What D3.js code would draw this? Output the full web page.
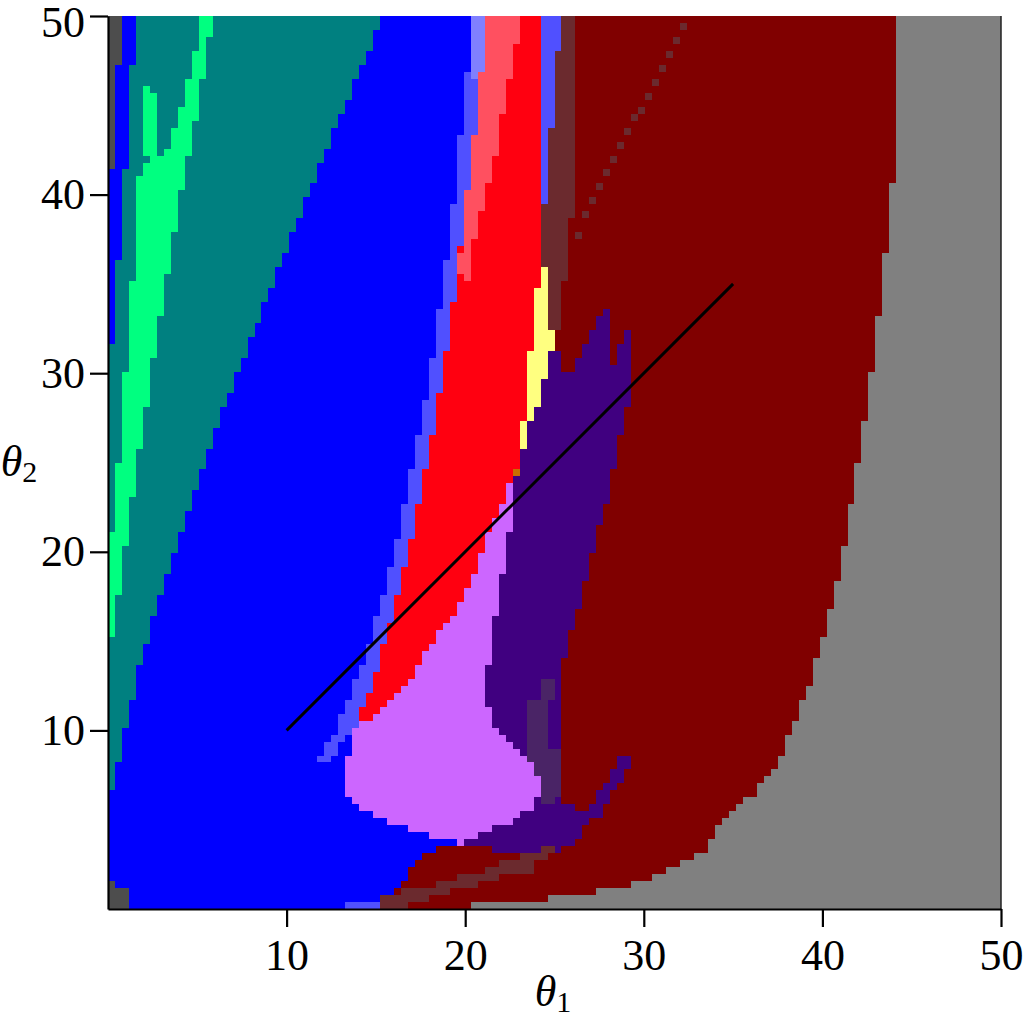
<!DOCTYPE html>
<html><head><meta charset="utf-8">
<script src="https://cdn.jsdelivr.net/npm/d3@7"></script>
<style>body{margin:0;background:#fff}svg{display:block}</style>
</head><body>
<svg id="chart" width="1024" height="1020"></svg>
<script>
// ---------- data (theta1, theta2 in degrees) ----------
const xTicks = [10, 20, 30, 40, 50];
const yTicks = [10, 20, 30, 40, 50];
const gridCells = 128;
const diagonalLine = [[10, 10], [35, 35]];

const plotArea = [[0,0],[50,0],[50,50],[0,50]];
// staircase edge of dark-red region: [theta1, theta2 from, theta2 to]
const darkRedEdge = [[44.12,50,40.6],[43.73,40.6,36.67],[43.34,36.67,33.09],[42.95,33.09,29.96],[42.5,29.96,27.21],[42.11,27.21,24.97],[41.77,24.97,22.62],[41.38,22.62,20.21],[40.99,20.21,18.25],[40.59,18.25,16.74],[40.2,16.74,15.12],[39.81,15.12,14.0],[39.42,14.0,12.37],[39.03,12.37,11.65],[38.63,11.65,10.41],[38.24,10.41,9.63],[37.85,9.63,8.45],[37.46,8.45,7.67],[37.07,7.67,7.28],[36.67,7.28,6.89],[36.34,6.89,6.44],[35.95,6.44,6.1],[35.55,6.1,5.71],[35.11,5.71,5.32],[34.77,5.32,4.93],[34.38,4.93,4.54],[33.99,4.54,3.75],[33.59,3.75,3.02],[32.81,3.02,2.58],[32.03,2.58,2.18],[31.24,2.18,1.79],[30.46,1.79,1.4],[29.34,1.4,1.01],[27.38,1.01,0.67],[24.64,0.67,0.28],[20.32,0.28,0]];
const mutedTopBand = [[24.24,50],[26.15,50],[26.15,38.58],[25.76,38.58],[25.76,35.05],[25.42,35.05],[25.42,32.31],[24.24,32.31]];
const lightBlueTopRight = [[24.24,50],[25.42,50],[25.42,47.98],[25.03,47.98],[25.03,43.73],[24.58,43.73],[24.58,39.42],[24.24,39.42]];
// single muted cells forming a dotted diagonal inside the dark-red region
const dottedCells = [[32.21,49.59],[31.8,48.81],[31.41,48.0],[31.03,47.2],[30.66,46.42],[30.25,45.67],[29.88,44.89],[29.47,44.28],[29.1,43.49],[28.67,42.72],[28.29,41.98],[27.88,41.13],[27.51,40.35],[27.12,39.6],[26.75,38.8],[26.37,37.83]];
const purpleRegion = [[24.58,31.19],[25.42,31.19],[25.42,30.01],[25.98,30.18],[26.43,30.91],[26.76,31.58],[27.1,32.25],[27.38,32.98],[27.72,33.54],[28.11,33.54],[28.11,30.35],[28.5,30.35],[28.5,31.58],[28.95,31.58],[28.95,32.31],[29.34,32.31],[29.34,28.89],[29.11,28.05],[28.72,26.48],[28.28,24.52],[27.88,22.56],[27.49,21.22],[27.1,19.82],[26.76,18.25],[26.37,16.91],[25.98,15.57],[25.59,14.0],[25.2,12.82],[25.2,6.1],[25.76,5.77],[26.99,5.38],[26.99,4.98],[26.6,4.59],[26.26,3.81],[25.76,3.42],[24.19,3.14],[21.5,3.14],[21.5,3.52],[19.71,3.55],[20.83,6.66],[20.27,11.7],[20.83,17.3],[21.95,22.9],[22.79,26.26],[23.63,29.62],[24.19,31.19]];
const mutedPurpleRegion = [[24.19,12.93],[25.08,12.93],[25.08,11.7],[24.58,11.42],[24.58,9.01],[25.42,8.9],[25.42,6.3],[25.03,6.0],[25.03,5.77],[24.19,5.77],[23.85,7.33],[23.46,8.79],[23.46,11.59],[24.19,11.7]];
const purpleStreak = [[26.6,4.98],[27.5,4.98],[29.4,8.4],[28.7,8.4]];
const mutedBottomBand = [[15.34,0],[15.34,0.59],[16.46,0.98],[18.42,1.37],[19.54,1.76],[21.11,2.15],[21.95,2.54],[23.07,2.93],[24.19,3.32],[24.19,3.5],[25.03,3.5],[25.03,3.32],[24.58,2.93],[23.8,2.54],[23.8,2.15],[21.95,1.76],[20.66,1.37],[19.15,0.98],[18.03,0.59],[16.8,0.195],[16.8,0]];
const blueRegion = [[0,0],[0,50],[21.11,50],[21.11,48.66],[20.72,45.3],[20.32,41.71],[19.93,38.58],[19.54,35.72],[19.2,32.98],[18.81,30.4],[18.42,28.05],[18.03,25.93],[17.64,24.02],[17.25,22.0],[16.85,20.27],[16.46,18.7],[16.07,17.08],[15.68,15.57],[15.29,14.17],[14.89,12.99],[14.5,11.87],[14.11,10.86],[15.23,8.34],[17.47,6.1],[19.54,3.71],[18.42,3.32],[17.58,2.93],[17.19,2.54],[16.8,2.15],[16.8,1.76],[16.46,1.37],[16.07,0.98],[15.29,0.59],[15.29,0]];
const lightBlueBottom = [[13.38,0],[13.38,0.34],[15.29,0.34],[15.29,0]];
const tealRegion = [[1.62,50],[1.62,47.26],[1.23,47.26],[1.23,41.27],[0.84,41.27],[0.84,36.34],[0.5,36.34],[0.5,31.58],[0,31.58],[0,6.55],[0.5,6.55],[0.5,7.73],[1.62,12.99],[2.8,17.3],[4.37,22.0],[5.93,26.65],[8.29,32.7],[10.58,38.47],[12.93,44.12],[15.29,49.78],[15.4,50]];
const greenRegion = [[5.15,50],[5.88,50],[5.88,49.55],[5.54,48.21],[5.15,45.86],[4.76,43.56],[4.37,41.6],[3.98,39.42],[3.58,37.01],[3.14,34.66],[2.8,32.36],[2.41,29.84],[2.02,27.32],[1.62,24.69],[1.23,22.17],[0.84,19.43],[0.45,16.52],[0.45,15.17],[0,15.17],[0,21.0],[0.5,21.0],[0.5,24.97],[0.84,24.97],[0.84,30.0],[1.23,30.0],[1.23,35.05],[1.62,35.05],[1.62,40.9],[2.4,42.0],[3.2,42.4],[3.58,43.17],[3.98,44.51],[4.37,46.08],[4.76,47.59],[5.15,49.21]];
const greenBranch = [[2.0,46.0],[2.8,45.6],[2.8,42.3],[2.0,42.3]];
const darkGrayTop = [[0,50],[0.7,50],[0.7,47.26],[0.3,47.26],[0.3,41.27],[0,41.27]];
const darkGrayBottom = [[0,0],[0,1.7],[0.3,1.7],[0.3,1.0],[1.1,1.0],[1.1,0]];
const lightBlueBand = [[19.93,46.81],[21.6,46.81],[21.2,45.3],[20.8,41.7],[20.4,38.6],[20.0,35.7],[19.7,33.0],[19.3,30.4],[18.9,28.0],[18.5,25.9],[18.1,24.0],[17.7,22.0],[17.3,20.3],[17.0,18.7],[16.6,17.1],[16.2,15.6],[15.8,14.2],[15.4,13.0],[15.0,11.9],[14.6,10.9],[14.11,10.41],[13.72,10.02],[13.33,9.46],[12.71,8.79],[12.32,8.06],[11.76,8.06],[11.76,8.29],[12.15,8.9],[12.54,9.63],[12.93,10.41],[13.33,11.31],[13.72,12.37],[14.11,13.38],[14.5,14.39],[14.89,15.73],[15.29,17.08],[15.68,18.42],[16.07,19.99],[16.46,21.78],[16.8,23.52],[17.19,25.48],[17.64,27.66],[18.03,30.01],[18.42,32.53],[18.81,35.33],[19.2,38.24],[19.54,41.55],[19.93,45.02]];
const paleBlueTop = [[20.3,50],[21.1,50],[21.1,46.4],[20.3,46.4]];
const redRegion = [[21.11,50],[24.24,50],[24.24,34.66],[23.85,34.66],[23.85,31.19],[23.46,31.19],[23.46,27.21],[23.07,27.21],[23.07,25.14],[22.68,24.3],[22.51,23.91],[22.28,23.18],[21.89,22.23],[21.5,21.44],[21.11,20.66],[20.72,19.43],[20.32,18.25],[19.93,17.53],[19.54,16.74],[18.87,16.07],[18.42,15.51],[18.03,14.78],[17.64,14.0],[17.19,13.21],[16.8,12.6],[16.46,12.21],[16.07,11.81],[15.68,11.42],[15.06,11.03],[14.5,10.58],[14.5,10.41],[14.11,10.41],[14.11,10.86],[14.5,11.87],[14.89,12.99],[15.29,14.17],[15.68,15.57],[16.07,17.08],[16.46,18.7],[16.85,20.27],[17.25,22.0],[17.64,24.02],[18.03,25.93],[18.42,28.05],[18.81,30.4],[19.2,32.98],[19.54,35.72],[19.93,38.58],[20.32,41.71],[20.72,45.3],[21.11,48.66]];
const lightRedRegion = [[21.11,50],[23.07,50],[23.07,49.38],[22.68,47.59],[22.28,45.46],[21.89,43.56],[21.56,41.6],[21.11,39.81],[20.72,38.47],[20.38,36.9],[20.16,35.22],[19.6,35.5],[19.93,38.58],[20.32,41.71],[20.72,45.3],[21.11,48.66]];
const yellowRegion = [[23.07,25.76],[23.07,27.21],[23.46,27.21],[23.46,31.19],[23.85,31.19],[23.85,34.66],[24.24,34.66],[24.24,35.83],[24.64,35.83],[24.64,32.31],[25.03,32.31],[25.03,31.19],[24.58,31.19],[24.58,29.62],[24.24,29.62],[24.24,28.05],[23.85,28.05],[23.85,27.21],[23.46,27.21],[23.46,25.76]];
const orangeCell = [[22.7,24.2],[23.0,24.2],[23.0,24.6],[22.7,24.6]];
const lilacRegion = [[22.28,23.91],[22.68,23.91],[22.68,22.73],[22.28,19.99],[21.89,17.47],[21.5,15.17],[21.11,12.37],[21.5,10.41],[21.89,9.85],[22.28,9.46],[22.68,9.07],[23.07,8.73],[23.46,8.34],[23.85,7.73],[24.24,6.77],[23.85,6.05],[23.85,5.66],[23.07,5.27],[22.68,4.88],[21.5,4.49],[20.72,4.1],[19.93,3.71],[19.93,3.55],[19.54,3.55],[19.54,3.71],[18.03,4.1],[16.8,4.49],[15.68,4.88],[14.89,5.27],[14.11,5.66],[13.72,6.05],[13.33,6.45],[13.33,8.51],[13.72,9.18],[13.72,10.19],[14.11,10.58],[14.5,10.58],[15.06,11.03],[15.68,11.42],[16.07,11.81],[16.46,12.21],[16.8,12.6],[17.19,13.21],[17.64,14.0],[18.03,14.78],[18.42,15.51],[18.87,16.07],[19.54,16.74],[19.93,17.53],[20.32,18.25],[20.72,19.43],[21.11,20.66],[21.5,21.44],[21.89,22.23],[22.28,23.18]];

// ---------- drawing ----------
const svg = d3.select("#chart");
const x = d3.scaleLinear().domain([0, 50]).range([108, 1001]);
const y = d3.scaleLinear().domain([0, 50]).range([909, 16]);

function stairs(steps) {
  const pts = [];
  steps.forEach(s => { pts.push([s[0], s[1]]); pts.push([s[0], s[2]]); });
  return pts;
}
const darkRedRegion = [[0,0],[0,50]].concat(stairs(darkRedEdge));
const step = 50 / gridCells;
const cellKey = p => Math.floor(p[0] / step) + "," + Math.floor(p[1] / step);

const layers = [
  {polys:[plotArea], color:"#808080"},
  {polys:[darkRedRegion], color:"#800000"},
  {polys:[mutedTopBand], color:"#6b2a2e"},
  {polys:[lightBlueTopRight], color:"#5050ff"},
  {cells:new Set(dottedCells.map(cellKey)), color:"#6b2a2e"},
  {polys:[purpleRegion], color:"#400080"},
  {polys:[mutedPurpleRegion], color:"#4a2466"},
  {polys:[purpleStreak], color:"#400080"},
  {polys:[mutedBottomBand], color:"#6b2a2e"},
  {polys:[blueRegion], color:"#0000ff"},
  {polys:[lightBlueBottom], color:"#5050ff"},
  {polys:[tealRegion], color:"#008080"},
  {polys:[greenRegion, greenBranch], color:"#00ff80"},
  {polys:[darkGrayTop, darkGrayBottom], color:"#4d4d4d"},
  {polys:[lightBlueBand], color:"#5050ff"},
  {polys:[paleBlueTop], color:"#8080ff"},
  {polys:[redRegion], color:"#ff0010"},
  {polys:[lightRedRegion], color:"#ff5060"},
  {polys:[yellowRegion], color:"#ffff80"},
  {polys:[orangeCell], color:"#c86e00"},
  {polys:[lilacRegion], color:"#cc66ff"}
];

const cellsG = svg.append("g").attr("shape-rendering", "crispEdges");
function colorAt(i, j) {
  const p = [(i + 0.5) * step, (j + 0.5) * step];
  const key = i + "," + j;
  for (let k = layers.length - 1; k >= 0; k--) {
    const L = layers[k];
    if (L.cells) { if (L.cells.has(key)) return L.color; continue; }
    for (const poly of L.polys) if (d3.polygonContains(poly, p)) return L.color;
  }
  return null;
}
for (let j = 0; j < gridCells; j++) {
  let start = 0, cur = null;
  for (let i = 0; i <= gridCells; i++) {
    const c = i < gridCells ? colorAt(i, j) : "__end";
    if (c !== cur) {
      if (cur && cur !== "__end") {
        cellsG.append("rect")
          .attr("x", x(start * step)).attr("width", x(i * step) - x(start * step))
          .attr("y", y((j + 1) * step)).attr("height", y(j * step) - y((j + 1) * step))
          .attr("fill", cur);
      }
      start = i; cur = c;
    }
  }
}

// diagonal line
svg.append("path")
  .attr("d", d3.line().x(d => x(d[0])).y(d => y(d[1]))(diagonalLine))
  .attr("stroke", "#000").attr("stroke-width", 3).attr("fill", "none");

// right edge
svg.append("line").attr("x1", x(50)).attr("x2", x(50)).attr("y1", y(50)).attr("y2", y(0))
  .attr("stroke", "#222").attr("stroke-width", 1.5);

const font = "'Liberation Serif', 'Times New Roman', serif";
function styleAxis(g) {
  g.select(".domain").attr("stroke", "#000").attr("stroke-width", 2.2);
  g.selectAll(".tick line").attr("stroke", "#000").attr("stroke-width", 2.2);
  g.selectAll(".tick text").attr("font-family", font).attr("font-size", 44).attr("fill", "#000");
}
svg.append("g").attr("transform", `translate(0,${y(0)})`)
  .call(d3.axisBottom(x).tickValues(xTicks).tickSize(18).tickSizeOuter(0).tickPadding(12))
  .call(styleAxis);
svg.append("g").attr("transform", `translate(${x(0)},0)`)
  .call(d3.axisLeft(y).tickValues(yTicks).tickSize(18).tickSizeOuter(0).tickPadding(5))
  .call(styleAxis)
  .call(g => g.selectAll(".tick text").filter(d => d === 50).attr("dy", "0.46em"));

// axis titles
function title(tx, ty, sub) {
  const t = svg.append("text").attr("x", tx).attr("y", ty)
    .attr("font-family", font).attr("font-size", 44).attr("text-anchor", "middle").attr("fill", "#000");
  t.append("tspan").attr("font-style", "italic").text("θ");
  t.append("tspan").attr("font-size", 30).attr("dy", 6).text(sub);
}
title(553, 1006, "1");
title(19, 476, "2");
</script>
</body></html>
